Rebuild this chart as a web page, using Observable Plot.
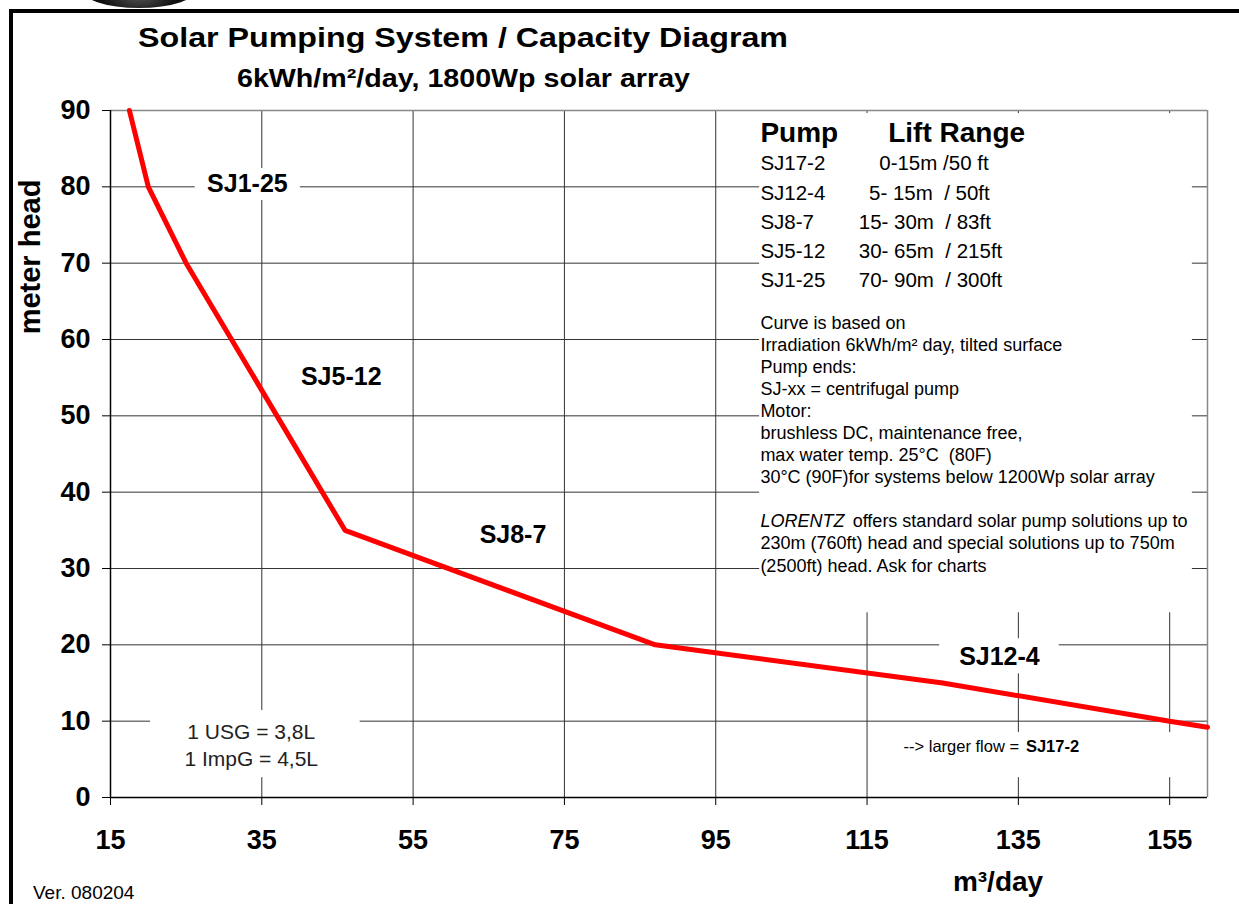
<!DOCTYPE html>
<html>
<head>
<meta charset="utf-8">
<script src="https://cdn.jsdelivr.net/npm/d3@7"></script>
<script src="https://cdn.jsdelivr.net/npm/@observablehq/plot@0.6"></script>
<style>
  html, body { margin: 0; padding: 0; background: #fff; }
  #wrap { position: relative; width: 1239px; height: 904px; overflow: hidden; font-family: "Liberation Sans", Arial, sans-serif; color: #000; }
  #border { position: absolute; left: 9px; top: 9px; width: 1240px; height: 900px; border-left: 4px solid #000; border-top: 4px solid #000; }
  #logo { position: absolute; left: 80px; top: -32px; width: 118px; height: 40px; border-radius: 50%; background: radial-gradient(ellipse at 50% 70%, #555 0%, #111 45%, #000 80%); }
  #chart { position: absolute; left: 0; top: 0; }
  .ov { position: absolute; white-space: pre; line-height: 1; }
  #title { left: 138px; top: 24px; font-size: 28px; font-weight: bold; transform-origin: 0 0; }
  #subtitle { left: 237px; top: 66px; font-size: 25.5px; font-weight: bold; transform-origin: 0 0; }
  #ylabel { left: 30px; top: 257px; font-size: 29px; font-weight: bold; transform: translate(-50%, -50%) rotate(-90deg); }
  #xlabel { left: 998px; top: 882px; font-size: 28px; font-weight: bold; transform: translate(-50%, -50%); }
  #ver { left: 33px; top: 883px; font-size: 19px; }
</style>
</head>
<body>
<div id="wrap">
  <div id="logo"></div>
  <div id="border"></div>
  <div id="chart"></div>
  <div class="ov" id="title">Solar Pumping System / Capacity Diagram</div>
  <div class="ov" id="subtitle">6kWh/m²/day, 1800Wp solar array</div>
  <div class="ov" id="ylabel">meter head</div>
  <div class="ov" id="xlabel">m³/day</div>
  <div class="ov" id="ver">Ver. 080204</div>
</div>
<script>
// ---- data ----
const flow = [17.5, 20, 25, 46, 87, 125, 155, 160];   // m³/day
const head = [90, 80, 70, 35, 20, 15, 10, 9.2];        // meter head

const xTicks = [15, 35, 55, 75, 95, 115, 135, 155];
const yTicks = [0, 10, 20, 30, 40, 50, 60, 70, 80, 90];
const xGrid = [35, 55, 75, 95, 115, 135, 155];
const yGrid = [10, 20, 30, 40, 50, 60, 70, 80];

// pump region labels
const pumpNames = ["SJ1-25", "SJ5-12", "SJ8-7", "SJ12-4"];
const pumpLabelX = [33.1, 45.5, 68.2, 132.5];
const pumpLabelY = [80.4, 55.05, 34.45, 18.4];

// lift range table
const tablePumps = ["SJ17-2", "SJ12-4", "SJ8-7", "SJ5-12", "SJ1-25"];
const tableRanges = ["\u2002\u20020-15m /50 ft", "\u20025- 15m \u00a0/ 50ft", "15- 30m \u00a0/ 83ft", "30- 65m \u00a0/ 215ft", "70- 90m \u00a0/ 300ft"];

const notes = [
  "Curve is based on",
  "Irradiation 6kWh/m² day, tilted surface",
  "Pump ends:",
  "SJ-xx = centrifugal pump",
  "Motor:",
  "brushless DC, maintenance free,",
  "max water temp. 25°C \u00a0(80F)",
  "30°C (90F)for systems below 1200Wp solar array"
];
const lorentz = "LORENTZ";
const lorentzRest = "offers standard solar pump solutions up to";
const notes2 = [
  "230m (760ft) head and special solutions up to 750m",
  "(2500ft) head. Ask for charts"
];
const conversions = ["1 USG = 3,8L", "1 ImpG = 4,5L"];

// ---- annotation placement (data units) ----
const whiteouts = [
  {x1: 26.2, x2: 40.1, y1: 78.2, y2: 82.4},
  {x1: 124.6, x2: 140.4, y1: 16.2, y2: 20.8},
  {x1: 119.5, x2: 157.5, y1: 2.6, y2: 8.5},
  {x1: 20.3, x2: 48, y1: 2.6, y2: 11.4},
  {x1: 100.8, x2: 158.0, y1: 24.2, y2: 89.6}
];

const curve = flow.map((f, i) => ({flow: f, head: head[i]}));
const pumpLabels = pumpNames.map((n, i) => ({n, x: pumpLabelX[i], y: pumpLabelY[i]}));
const tableRowY = [83.06, 79.07, 75.33, 71.53, 67.73];
const table = tablePumps.map((p, i) => ({p, r: tableRanges[i], y: tableRowY[i]}));
const notesY0 = 62.16, notesStep = 22.07 / 7.633;
const notesData = notes.map((t, i) => ({t, y: notesY0 - i * notesStep}));
const notes2Data = notes2.map((t, i) => ({t, y: notesY0 - (10 + i) * notesStep}));
const convData = conversions.map((t, i) => ({t, y: [8.5, 4.97][i]}));

const FONT = "'Liberation Sans', Arial, sans-serif";

const chart = Plot.plot({
  width: 1239,
  height: 904,
  marginLeft: 110,
  marginRight: 32,
  marginTop: 110,
  marginBottom: 107,
  x: {domain: [15, 160]},
  y: {domain: [0, 90]},
  style: {fontFamily: FONT, background: "transparent", color: "#000", overflow: "visible"},
  marks: [
    Plot.ruleX(xGrid, {stroke: "#333", strokeWidth: 1}),
    Plot.ruleY(yGrid, {stroke: "#333", strokeWidth: 1}),
    Plot.rect(whiteouts, {x1: "x1", x2: "x2", y1: "y1", y2: "y2", fill: "white"}),
    Plot.ruleY([90], {stroke: "#888", strokeWidth: 1.5}),
    Plot.ruleX([160], {stroke: "#888", strokeWidth: 1.5}),
    Plot.ruleX([15], {stroke: "#000", strokeWidth: 1.5}),
    Plot.ruleY([0], {stroke: "#000", strokeWidth: 1.5}),
    Plot.axisX({ticks: xTicks, tickSize: 8, tickPadding: 24, fontSize: 27, fontWeight: "bold", label: null, stroke: "#000", strokeOpacity: 1, tickFormat: d => String(d)}),
    Plot.axisY({ticks: yTicks, tickSize: 8, tickPadding: 12, fontSize: 27, fontWeight: "bold", label: null, stroke: "#000", strokeOpacity: 1, tickFormat: d => String(d)}),
    // pump region labels
    Plot.text(pumpLabels, {x: "x", y: "y", text: "n", fontSize: 25, fontWeight: "bold", fill: "#000"}),
    // lift range table
    Plot.text(["Pump"], {x: () => 100.9, y: () => 87.0, text: d => d, textAnchor: "start", fontSize: 28, fontWeight: "bold"}),
    Plot.text(["Lift Range"], {x: () => 117.8, y: () => 87.0, text: d => d, textAnchor: "start", fontSize: 28, fontWeight: "bold"}),
    Plot.text(table, {x: () => 100.9, y: "y", text: "p", textAnchor: "start", fontSize: 20.5}),
    Plot.text(table, {x: () => 113.9, y: "y", text: "r", textAnchor: "start", fontSize: 20.5}),
    // notes
    Plot.text(notesData, {x: () => 100.9, y: "y", text: "t", textAnchor: "start", fontSize: 18}),
    Plot.text([lorentz], {x: () => 100.9, y: () => notesY0 - 9 * notesStep, text: d => d, textAnchor: "start", fontSize: 18, fontStyle: "italic"}),
    Plot.text([lorentzRest], {x: () => 113.1, y: () => notesY0 - 9 * notesStep, text: d => d, textAnchor: "start", fontSize: 18}),
    Plot.text(notes2Data, {x: () => 100.9, y: "y", text: "t", textAnchor: "start", fontSize: 18}),
    // conversions
    Plot.text(convData, {x: () => 33.6, y: "y", text: "t", fontSize: 21, fill: "#222"}),
    // larger flow note
    Plot.text(["--> larger flow = "], {x: () => 135.7, y: () => 6.68, text: d => d, textAnchor: "end", fontSize: 16.5}),
    Plot.text(["SJ17-2"], {x: () => 136.0, y: () => 6.68, text: d => d, textAnchor: "start", fontSize: 16.5, fontWeight: "bold"}),
    // capacity curve
    Plot.line(curve, {x: "flow", y: "head", stroke: "#ff0000", strokeWidth: 5, strokeLinejoin: "miter"})
  ]
});
document.getElementById("chart").appendChild(chart);

// stretch title lines horizontally to the reference widths
function fit(id, target) {
  const el = document.getElementById(id);
  const w = el.getBoundingClientRect().width;
  if (w > 0) el.style.transform = `scaleX(${target / w})`;
}
fit("title", 650);
fit("subtitle", 453);
</script>
</body>
</html>
